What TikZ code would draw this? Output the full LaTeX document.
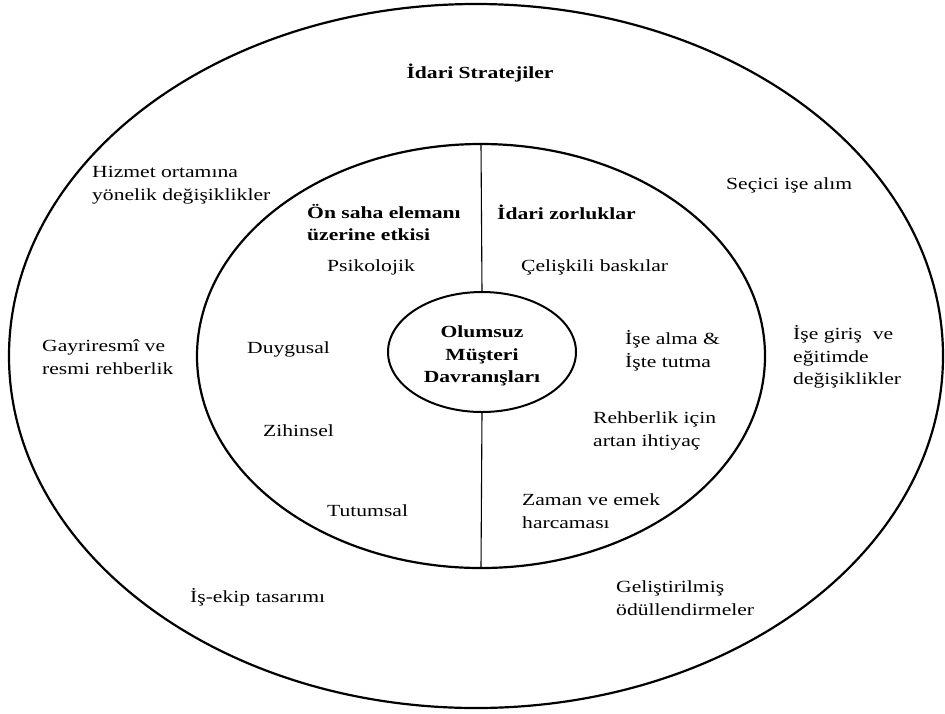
\documentclass[tikz,border=0pt]{standalone}
\usepackage{fontspec}
\setmainfont[FakeStretch=1.27]{Liberation Serif}
\usetikzlibrary{shapes.geometric}
\tikzset{
  ring/.style={ellipse, draw, line width=2.2pt, inner sep=0pt, outer sep=0pt},
  lbl/.style={inner sep=0pt, anchor=west, align=left, font=\fontsize{17}{22.5}\selectfont},
  head/.style={lbl, font=\fontsize{17}{22.5}\selectfont\bfseries},
  divider/.style={line width=1.1pt}
}
\begin{document}
\begin{tikzpicture}[x=1pt,y=-1pt]
\useasboundingbox (0,0) rectangle (945,713);
% rings
\node[ring, minimum width=934pt, minimum height=704pt] (outer) at (476,356) {};
\node[ring, minimum width=568pt, minimum height=424pt] (inner) at (481,356) {};
\node[ring, line width=2pt, minimum width=188pt, minimum height=120pt] (core) at (482,352) {};
\node[head, anchor=center, align=center] (coretext) at (482,356) {Olumsuz\\Müşteri\\Davranışları};
% dividers
\draw[divider] (inner.north) -- (core.north);
\draw[divider] (core.south) -- (inner.south);
% outer ring
\node[head, anchor=center] (strat) at (480,73) {İdari Stratejiler};
\node[lbl] (hizmet) at (92,185) {Hizmet ortamına\\yönelik değişiklikler};
\node[lbl] (gayri) at (42,357) {Gayriresmî ve\\resmi rehberlik};
\node[lbl] (isekip) at (190,597) {İş-ekip tasarımı};
\node[lbl] (secici) at (726,185) {Seçici işe alım};
\node[lbl] (isegiris) at (793,357) {İşe giriş~ ve\\eğitimde\\değişiklikler};
\node[lbl] (gelis) at (616,598) {Geliştirilmiş\\ödüllendirmeler};
% inner left
\node[head] (onsaha) at (307,222.5) {Ön saha elemanı\\üzerine etkisi};
\node[lbl, anchor=center] (psiko) at (371,267) {Psikolojik};
\node[lbl] (duygu) at (247,349) {Duygusal};
\node[lbl] (zihin) at (263,431) {Zihinsel};
\node[lbl] (tutum) at (327,511) {Tutumsal};
% inner right
\node[head] (idari) at (497,212) {İdari zorluklar};
\node[lbl] (celis) at (521,267) {Çelişkili baskılar};
\node[lbl] (isealma) at (625,351) {İşe alma \&\\İşte tutma};
\node[lbl] (rehber) at (593,431) {Rehberlik için\\artan ihtiyaç};
\node[lbl] (zaman) at (522,511) {Zaman ve emek\\harcaması};
\end{tikzpicture}
\end{document}
